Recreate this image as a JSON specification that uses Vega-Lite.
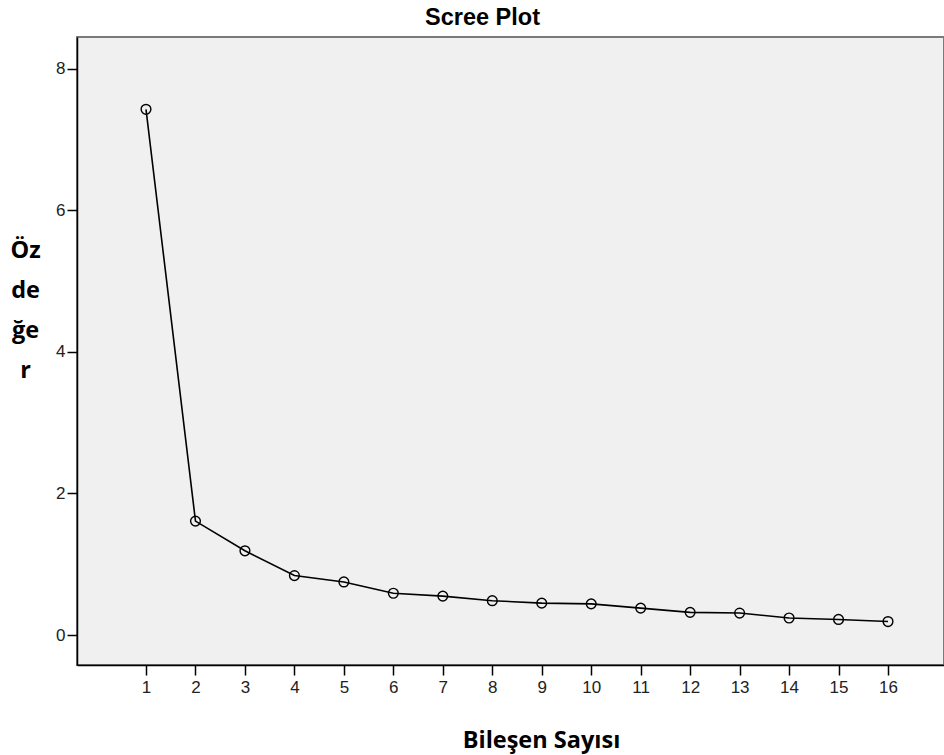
{
  "$schema": "https://vega.github.io/schema/vega-lite/v6.json",
  "width": 867,
  "height": 628,
  "autosize": {"type": "none"},
  "padding": {"left": 77, "top": 37, "right": 0, "bottom": 90},
  "background": "white",
  "title": {
    "text": "Scree Plot",
    "font": "Liberation Sans",
    "fontSize": 23.5,
    "fontWeight": "bold",
    "color": "#000000",
    "anchor": "middle",
    "dx": -28,
    "offset": 8
  },
  "config": {
    "view": {"fill": "#f0f0f0", "stroke": "#7a7a7a", "strokeWidth": 2},
    "axis": {
      "grid": false,
      "domainColor": "#000000",
      "domainWidth": 1.5,
      "tickColor": "#000000",
      "tickWidth": 1.5,
      "tickSize": 10,
      "labelFont": "Liberation Sans",
      "labelFontSize": 17,
      "labelColor": "#222222",
      "titleFont": "Open Sans",
      "titleFontWeight": "bold",
      "titleFontSize": 23.5,
      "titleColor": "#000000"
    }
  },
  "data": {
    "values": [
      {"bilesen": 1, "ozdeger": 7.43},
      {"bilesen": 2, "ozdeger": 1.61},
      {"bilesen": 3, "ozdeger": 1.19},
      {"bilesen": 4, "ozdeger": 0.84},
      {"bilesen": 5, "ozdeger": 0.75},
      {"bilesen": 6, "ozdeger": 0.59},
      {"bilesen": 7, "ozdeger": 0.55},
      {"bilesen": 8, "ozdeger": 0.485},
      {"bilesen": 9, "ozdeger": 0.45},
      {"bilesen": 10, "ozdeger": 0.44},
      {"bilesen": 11, "ozdeger": 0.38},
      {"bilesen": 12, "ozdeger": 0.32},
      {"bilesen": 13, "ozdeger": 0.31},
      {"bilesen": 14, "ozdeger": 0.24},
      {"bilesen": 15, "ozdeger": 0.22},
      {"bilesen": 16, "ozdeger": 0.19}
    ]
  },
  "encoding": {
    "x": {
      "field": "bilesen",
      "type": "quantitative",
      "scale": {"domain": [-0.395, 17.132], "nice": false, "zero": false},
      "axis": {
        "values": [1,2,3,4,5,6,7,8,9,10,11,12,13,14,15,16],
        "labelPadding": 4,
        "title": "Bileşen Sayısı",
        "titleX": 464,
        "titleY": 82,
        "titleAlign": "center",
        "titleBaseline": "alphabetic"
      }
    },
    "y": {
      "field": "ozdeger",
      "type": "quantitative",
      "scale": {"domain": [-0.424, 8.452], "nice": false, "zero": false},
      "axis": {
        "values": [0, 2, 4, 6, 8],
        "labelPadding": 2,
        "title": ["Öz", "de", "ğe", "r"],
        "titleAngle": 0,
        "titleX": -52,
        "titleY": 220,
        "titleAlign": "center",
        "titleBaseline": "alphabetic",
        "titleLineHeight": 40
      }
    }
  },
  "layer": [
    {"mark": {"type": "line", "color": "#000000", "strokeWidth": 1.6}},
    {"mark": {"type": "point", "shape": "circle", "filled": false, "color": "#000000", "strokeWidth": 1.4, "size": 95, "opacity": 1}}
  ]
}
